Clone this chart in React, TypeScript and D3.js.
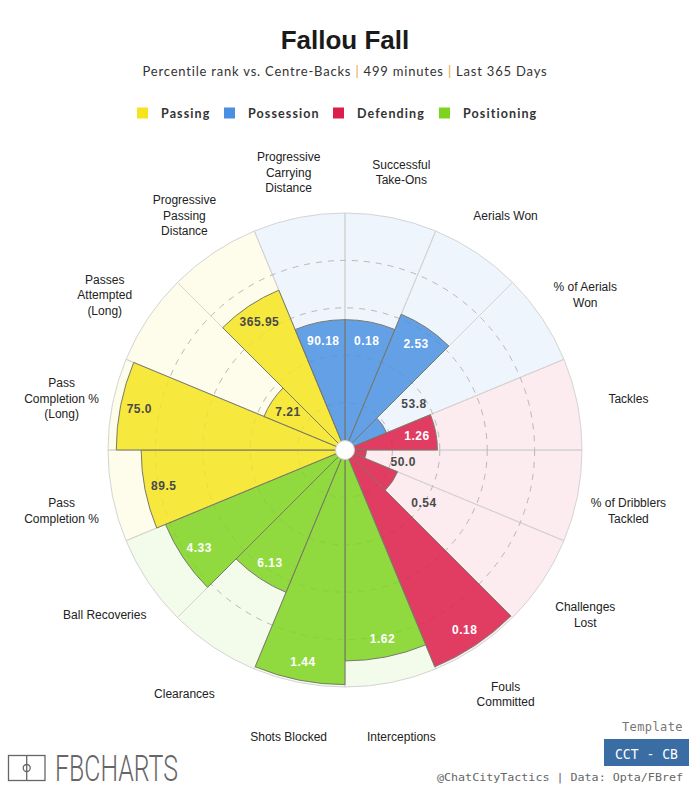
import React from 'react';
import * as d3 from 'd3';

// Categories clockwise from 12 o'clock
const categories = [
  'Successful\nTake-Ons',
  'Aerials Won',
  '% of Aerials\nWon',
  'Tackles',
  '% of Dribblers\nTackled',
  'Challenges\nLost',
  'Fouls\nCommitted',
  'Interceptions',
  'Shots Blocked',
  'Clearances',
  'Ball Recoveries',
  'Pass\nCompletion %',
  'Pass\nCompletion %\n(Long)',
  'Passes\nAttempted\n(Long)',
  'Progressive\nPassing\nDistance',
  'Progressive\nCarrying\nDistance',
];
const groups = [
  'Possession', 'Possession', 'Possession',
  'Defending', 'Defending', 'Defending', 'Defending',
  'Positioning', 'Positioning', 'Positioning', 'Positioning',
  'Passing', 'Passing', 'Passing', 'Passing',
  'Possession',
];
const percentiles = [55, 62, 19, 39, 9, 24, 99, 89, 99, 65, 82, 86, 96.5, 37, 73, 55];
const valueLabels = ['0.18', '2.53', '53.8', '1.26', '50.0', '0.54', '0.18', '1.62', '1.44', '6.13', '4.33', '89.5', '75.0', '7.21', '365.95', '90.18'];
const groupNames = ['Passing', 'Possession', 'Defending', 'Positioning'];
const groupColors = ['#F5E41E', '#4A90E2', '#DC1F4A', '#7ED321'];
const gridTicks = [20, 40, 60, 80];

export default function App() {
  const W = 689, H = 790, cx = 345, cy = 450, R = 237;
  const rScale = d3.scaleLinear().domain([0, 100]).range([0, R]);
  const n = categories.length;
  const step = (2 * Math.PI) / n;
  const color = d3.scaleOrdinal<string, string>().domain(groupNames).range(groupColors);
  const arc = d3.arc<any>();

  const legendX = [137, 224, 333, 439];

  return (
    <svg width={W} height={H} style={{ position: 'absolute', left: 0, top: 0, background: '#fff' }}
      fontFamily="'Liberation Sans', Arial, sans-serif">
      {/* Title */}
      <text x={345} y={49} textAnchor="middle" fontSize={26} fontWeight="bold" fill="#1a1a1a">Fallou Fall</text>
      <text x={345} y={76} textAnchor="middle" fontSize={13} fill="#333" fontFamily="Lato, sans-serif" letterSpacing={0.8}>
        Percentile rank vs. Centre-Backs <tspan fill="#E8A33D">|</tspan> 499 minutes <tspan fill="#E8A33D">|</tspan> Last 365 Days
      </text>
      {/* Legend */}
      {groupNames.map((g, i) => (
        <g key={g}>
          <rect x={legendX[i]} y={107.5} width={11} height={11} fill={color(g)} />
          <text x={legendX[i] + 24} y={118} fontSize={12.5} fontWeight="bold" fill="#333"
            fontFamily="Lato, sans-serif" letterSpacing={1.1}>{g}</text>
        </g>
      ))}

      <g transform={`translate(${cx},${cy})`}>
        {/* Background sectors */}
        {categories.map((c, i) => (
          <path key={'bg' + i}
            d={arc({ innerRadius: 0, outerRadius: R, startAngle: i * step, endAngle: (i + 1) * step }) as string}
            fill={color(groups[i])} fillOpacity={0.09} stroke="#d4d4d4" strokeWidth={1} />
        ))}
        {/* Grid rings */}
        {gridTicks.map(t => (
          <circle key={'g' + t} r={rScale(t)} fill="none" stroke="#b8b8b8" strokeWidth={1} strokeDasharray="6,6" />
        ))}
        {/* Bars */}
        {categories.map((c, i) => (
          <path key={'bar' + i}
            d={arc({ innerRadius: 0, outerRadius: rScale(percentiles[i]), startAngle: i * step, endAngle: (i + 1) * step }) as string}
            fill={color(groups[i])} fillOpacity={0.85} stroke="#7a7a6a" strokeWidth={1} />
        ))}
        {/* Value labels */}
        {categories.map((c, i) => {
          const a = (i + 0.5) * step;
          const r0 = rScale(percentiles[i]);
          const outside = percentiles[i] < 30;
          const r = outside ? r0 + 38 : r0 - 19;
          const dark = outside || groups[i] === 'Passing';
          return (
            <text key={'v' + i} x={r * Math.sin(a)} y={-r * Math.cos(a) + 4.3} textAnchor="middle"
              fontSize={12} fontWeight="bold" letterSpacing={0.5} fill={dark ? '#4a4a4a' : '#fff'}>
              {valueLabels[i]}
            </text>
          );
        })}
        <circle r={9.5} fill="#fff" stroke="#cfcfcf" strokeWidth={1} />
        {/* Category labels */}
        {categories.map((c, i) => {
          const a = (i + 0.5) * step;
          const lines = c.split('\n');
          const x = 289 * Math.sin(a);
          const yc = -284 * Math.cos(a) + 4 - 4 * Math.cos(a);
          return (
            <text key={'c' + i} textAnchor="middle" fontSize={12} fill="#222">
              {lines.map((l, j) => (
                <tspan key={j} x={x} y={yc + (j - (lines.length - 1) / 2) * 15.5 + 5}>{l}</tspan>
              ))}
            </text>
          );
        })}
      </g>

      {/* Footer right */}
      <text x={683} y={731} textAnchor="end" fontSize={12} fill="#777" fontFamily="'DejaVu Sans Mono', monospace" letterSpacing={0.4}>Template</text>
      <rect x={604} y={739} width={85} height={27} fill="#3A6DA3" />
      <text x={646.5} y={758.5} textAnchor="middle" fontSize={14} fill="#fff" fontFamily="'DejaVu Sans Mono', monospace"
        textLength={63} lengthAdjust="spacingAndGlyphs">CCT - CB</text>
      <text x={683} y={781} textAnchor="end" fontSize={11} fill="#666" fontFamily="'DejaVu Sans Mono', monospace"
        textLength={246} lengthAdjust="spacingAndGlyphs">@ChatCityTactics | Data: Opta/FBref</text>

      {/* Logo */}
      <g stroke="#666" strokeWidth={1.3} fill="none">
        <rect x={8.5} y={755.5} width={36.5} height={25} />
        <line x1={26.7} y1={755.5} x2={26.7} y2={780.5} />
        <circle cx={26.7} cy={768} r={3.5} />
      </g>
      <text x={55} y={781} fontSize={36} fill="#666" fontFamily="Roboto, sans-serif" fontWeight={300}
        textLength={123} lengthAdjust="spacingAndGlyphs">FBCHARTS</text>
    </svg>
  );
}
